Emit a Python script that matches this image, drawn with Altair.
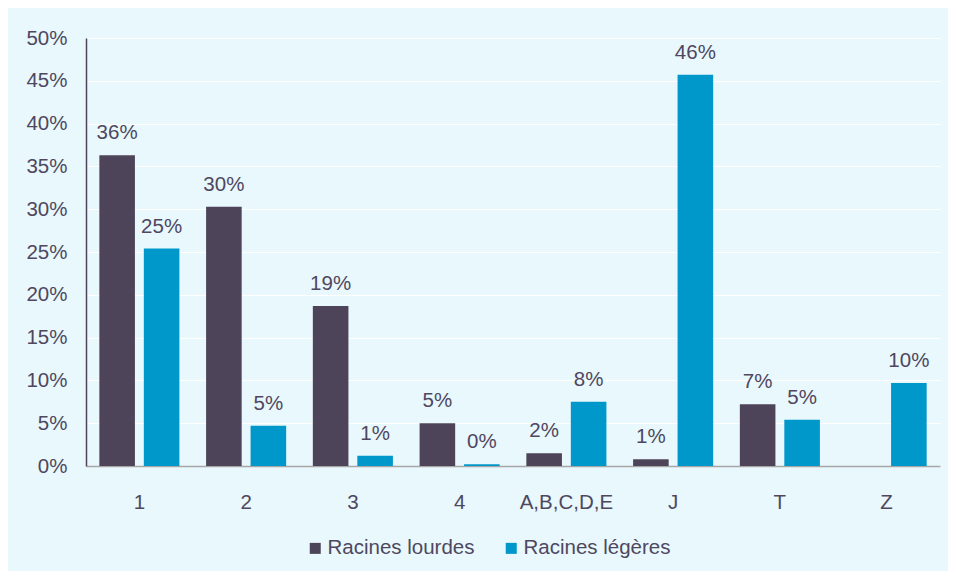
import altair as alt
import pandas as pd

categories = ["1", "2", "3", "4", "A,B,C,D,E", "J", "T", "Z"]
lourdes = [36.3, 30.3, 18.7, 5.0, 1.5, 0.8, 7.2, None]
legeres = [25.4, 4.7, 1.2, 0.2, 7.5, 45.7, 5.4, 9.7]
series = ["Racines lourdes", "Racines légères"]
colors = ["#4D4459", "#0097CA"]

rows = []
for c, a, b in zip(categories, lourdes, legeres):
    if a is not None:
        rows.append({"cat": c, "serie": series[0], "val": a / 100, "lab": f"{round(a):.0f}%"})
    rows.append({"cat": c, "serie": series[1], "val": b / 100, "lab": f"{round(b):.0f}%"})
df = pd.DataFrame(rows)

FONT = "Liberation Sans"
TXT = "#4F4760"
FS = 20.5

x = alt.X("cat:N", sort=categories, title=None,
          scale=alt.Scale(paddingInner=0.25, paddingOuter=0.125),
          axis=alt.Axis(labelAngle=0, labelFontSize=FS, labelColor=TXT, labelFont=FONT,
                        labelPadding=26, ticks=False, domainColor="#A6A6A6", domainWidth=1.5,
                        grid=False))
xo = alt.XOffset("serie:N", sort=series, scale=alt.Scale(paddingInner=0.2))
y = alt.Y("val:Q", title=None,
          scale=alt.Scale(domain=[0, 0.5]),
          axis=alt.Axis(format=".0%", values=[i / 100 for i in range(0, 51, 5)],
                        labelFontSize=FS, labelColor=TXT, labelFont=FONT, labelPadding=19,
                        ticks=False, domainColor="#4D4459", domainWidth=1.5,
                        gridColor="#FFFFFF", gridWidth=1.2))

bars = alt.Chart(df).mark_bar().encode(
    x=x, xOffset=xo, y=y,
    color=alt.Color("serie:N", sort=series, title=None,
                    scale=alt.Scale(domain=series, range=colors),
                    legend=alt.Legend(orient="none", legendX=219, legendY=500,
                                      direction="horizontal", symbolType="square",
                                      symbolSize=121, labelFontSize=FS, labelColor=TXT,
                                      labelFont=FONT, columnPadding=26, symbolStrokeWidth=0,
                                      labelOffset=2)),
)

labels = alt.Chart(df).mark_text(baseline="alphabetic", dy=-16, fontSize=FS, font=FONT, color=TXT).encode(
    x=x, xOffset=xo, y=y, text="lab:N",
)

chart = (bars + labels).properties(
    width=854, height=428,
    background="#E8F8FD",
    padding={"left": 78, "top": 30, "right": 8, "bottom": 105},
    autosize=alt.AutoSizeParams(type="none"),
).configure_view(stroke=None, fill="#E8F8FD")

chart.save("out.html", embed_options={"renderer": "svg", "actions": False})
